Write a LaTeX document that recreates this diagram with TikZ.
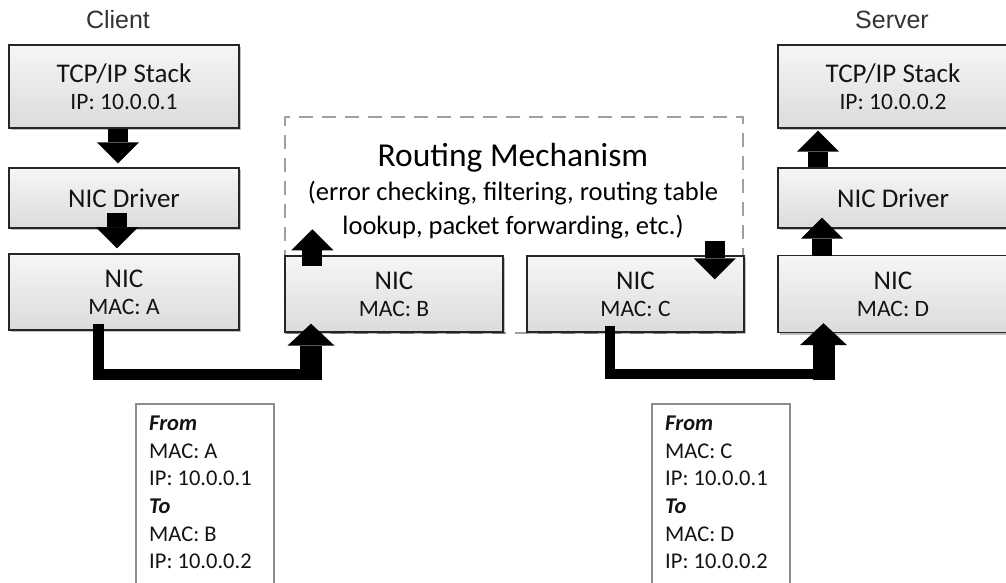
\documentclass[tikz,border=0pt]{standalone}
\usepackage{fontspec}
\setmainfont{Carlito}
\newfontfamily\headfont{Liberation Sans}
\usetikzlibrary{arrows.meta,calc,shadows}
\newcommand\detailsize{\fontsize{23.5}{27}\selectfont}

\begin{document}
\begin{tikzpicture}[x=1pt,y=-1pt,
  layer/.style={draw=black!85, line width=1.3pt, top color=gray!7, bottom color=gray!28,
    inner sep=0pt, align=center, text=black!92, font=\fontsize{27}{27}\selectfont,
    drop shadow={shadow xshift=2pt, shadow yshift=-2pt, opacity=0.25, fill=black}},
  side/.style={font=\headfont\fontsize{25}{28}\selectfont, text=black!80},
  blk/.style={line width=20pt, line cap=butt,
    -{Triangle[width=42pt, length=21pt, line width=0pt]}},
  wideblk/.style={line width=22pt, line cap=butt,
    -{Triangle[width=47pt, length=22pt, line width=0pt]}},
  wire/.style={line width=10.5pt, line cap=butt, line join=miter},
  frame/.style={draw=gray!75, line width=2pt, dash pattern=on 14pt off 9pt,
    inner sep=0pt},
  pkt/.style={draw=gray!90, line width=1.2pt},
  pkttext/.style={align=left, inner sep=0pt, text=black!92,
    font=\fontsize{22.5}{27.6}\selectfont}
]
\useasboundingbox (0,0) rectangle (1006,583);

% routing area frame (drawn first, the NIC boxes cover its lower edge)
\node[frame, minimum width=458pt, minimum height=216pt] (route) at (514,225) {};
\node (rtitle) at (513,158) {\fontsize{33.5}{36}\selectfont Routing Mechanism};
\node[align=center, font=\fontsize{26.5}{34}\selectfont] (rnote) at (513,210)
  {(error checking, filtering, routing table\\lookup, packet forwarding, etc.)};

% column headings
\node[side] (client) at (118,20) {Client};
\node[side] (server) at (892,20) {Server};

% client stack
\node[layer, minimum width=230pt, minimum height=83pt] (ctcp) at (124,86.5)
  {TCP/IP Stack\\{\detailsize IP: 10.0.0.1}};
\node[layer, minimum width=230pt, minimum height=60pt] (cdrv) at (124,198) {NIC Driver};
\node[layer, minimum width=230pt, minimum height=76pt] (cnic) at (124,292)
  {NIC\\{\detailsize MAC: A}};

% server stack
\node[layer, minimum width=230pt, minimum height=83pt] (stcp) at (893,86.5)
  {TCP/IP Stack\\{\detailsize IP: 10.0.0.2}};
\node[layer, minimum width=230pt, minimum height=60pt] (sdrv) at (893,198) {NIC Driver};
\node[layer, minimum width=230pt, minimum height=77pt] (snic) at (893,294)
  {NIC\\{\detailsize MAC: D}};

% router interfaces
\node[layer, minimum width=218pt, minimum height=76pt] (nicB) at (394,294)
  {NIC\\{\detailsize MAC: B}};
\node[layer, minimum width=217pt, minimum height=76pt] (nicC) at (635.5,294)
  {NIC\\{\detailsize MAC: C}};

% vertical flow inside the hosts
\draw[blk] ($(ctcp.south)+(-6,0)$) -- ($(cdrv.north)+(-6,-4)$);
\draw[blk] ($(cdrv.south)+(-7,-16)$) -- ($(cnic.north)+(-7,-5)$);
\draw[blk] ($(sdrv.north)+(-75,0)$) -- ($(stcp.south)+(-75,2)$);
\draw[blk] ($(snic.north)+(-71,1)$) -- ($(sdrv.south)+(-71,-11)$);

% flow into and out of the routing mechanism
\draw[blk] ($(nicB.north west)+(28,11)$) -- ($(nicB.north west)+(28,-26)$);
\draw[blk] ($(nicC.north east)+(-30,-14)$) -- ($(nicC.north east)+(-30,24)$);

% links between interfaces
\coordinate (bendB) at ($(nicB.south)+(-72,42)$);
\draw[wire] ($(cnic.south)+(-25.5,-7)$) |- (bendB);
\draw[wideblk] ($(nicB.south)+(-83,47.5)$) -- ($(nicB.south)+(-83,-9)$);

\coordinate (bendD) at ($(snic.south)+(-58,41)$);
\draw[wire] ($(nicC.south)+(-25.5,-7)$) |- (bendD);
\draw[wideblk] ($(snic.south)+(-69.5,46.5)$) -- ($(snic.south)+(-69.5,-10)$);

% frame headers
\draw[pkt] (136,404) rectangle (274,600);
\node[pkttext, anchor=north west] (pkt1) at (149,416)
  {\textbf{\textit{From}}\\MAC: A\\IP: 10.0.0.1\\\textbf{\textit{To}}\\MAC: B\\IP: 10.0.0.2};
\draw[pkt] (652,404) rectangle (790,600);
\node[pkttext, anchor=north west] (pkt2) at (665,416)
  {\textbf{\textit{From}}\\MAC: C\\IP: 10.0.0.1\\\textbf{\textit{To}}\\MAC: D\\IP: 10.0.0.2};
\end{tikzpicture}
\end{document}
